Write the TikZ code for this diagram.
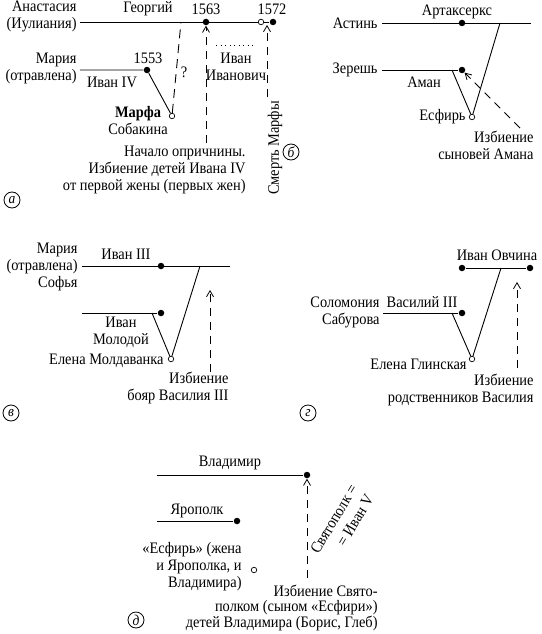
\documentclass[tikz,border=0pt]{standalone}
\usepackage{fontspec}
\setmainfont{Liberation Serif}[FakeStretch=0.9]
\usetikzlibrary{arrows.meta,positioning}

\begin{document}
\begin{tikzpicture}[x=1pt, y=-1pt, line width=0.9pt,
 >={Straight Barb[length=6pt,width=7pt,line width=0.8pt]},
 lab/.style={font=\fontsize{16}{17}\selectfont, inner sep=0pt, align=center},
 labr/.style={lab, align=right},
 pt/.style={circle, fill, inner sep=0pt, minimum size=6.5pt},
 opt/.style={circle, draw, fill=white, inner sep=0pt, minimum size=5.5pt, line width=0.7pt},
 kill/.style={->, dash pattern=on 8pt off 6pt},
 tag/.style={circle, draw, line width=0.8pt, inner sep=0pt, minimum size=16pt, font=\itshape\fontsize{15}{15}\selectfont}]
\useasboundingbox (0,0) rectangle (541,634);

% а
\node[labr, anchor=east] (anast) at (77,16) {Анастасия\\(Иулиания)};
\node[labr, anchor=east] (mariaA) at (77,68) {Мария\\(отравлена)};
\coordinate (aL0) at (80,22);
\coordinate (aL1) at (80,70);
\node[pt] (d63) at (206,22) {};
\node[opt] (o72) at (261,22) {};
\node[pt] (d72) at (273,22) {};
\node[pt] (d53) at (147,70) {};
\node[opt] (marfa) at (172,116) {};
\node[lab] (georg) at (148,9) {Георгий};
\node[lab] (y63) at (206,9) {1563};
\node[lab] (y72) at (272,9) {1572};
\node[lab] (y53) at (148,58) {1553};
\node[lab] (ivan4) at (112,82) {Иван IV};
\node[lab] (sobak) at (138,121) {\textbf{Марфа}\\Собакина};
\node[lab] (ivanich) at (236,67) {Иван\\Иванович};
\node[labr, anchor=east] (oprich) at (246,170) {Начало опричнины.\\Избиение детей Ивана IV\\от первой жены (первых жен)};
\node[lab, rotate=90] (smert) at (275,148) {Смерть Марфы};
\node[lab] (quest) at (184,72) {?};
\coordinate (g72) at (181,22);
\coordinate (t63) at (206,143);
\coordinate (a72) at (267,25);
\coordinate (t72) at (267,97);
\coordinate (dots0) at (216,45);
\coordinate (dots1) at (254,45);
\draw (aL0) -- (o72) (o72) -- (d72);
\draw (aL1) -- (d53) -- (marfa);
\draw[dash pattern=on 9pt off 6pt] (marfa) -- (g72);
\draw[dash pattern=on 1pt off 3.5pt] (dots0) -- (dots1);
\draw[kill] (t63) -- (d63);
\draw[kill] (t72) -- (a72);
\node[tag] (tagA) at (12,200) {а};

% б
\node[labr, anchor=east] (astin) at (378,23) {Астинь};
\node[labr, anchor=east] (zeresh) at (378,70) {Зерешь};
\coordinate (bL0) at (382,23);
\coordinate (bR0) at (531,23);
\coordinate (bL1) at (382,70);
\node[pt] (artax) at (462,23) {};
\node[pt] (aman) at (462,70) {};
\node[opt] (esfir) at (472,117) {};
\coordinate (bV0) at (452,70);
\coordinate (bV1) at (500,23);
\coordinate (bT) at (520,128);
\node[lab] (artaxL) at (457,12) {Артаксеркс};
\node[lab] (amanL) at (424,82) {Аман};
\node[labr, anchor=east] (esfirL) at (466,117) {Есфирь};
\node[labr, anchor=east] (killB) at (534,145) {Избиение\\сыновей Амана};
\draw (bL0) -- (bR0);
\draw (bL1) -- (aman);
\draw (bV0) -- (esfir) -- (bV1);
\draw[kill] (bT) -- (aman);
\node[tag] (tagB) at (291,152) {б};

% в
\node[labr, anchor=east] (mariaV) at (78,267) {Мария\\(отравлена)\\Софья};
\coordinate (vL0) at (82,266);
\coordinate (vR0) at (230,266);
\coordinate (vL1) at (82,313);
\node[pt] (ivan3) at (161,266) {};
\node[pt] (ivanM) at (161,313) {};
\node[opt] (elenaM) at (171,359) {};
\coordinate (vV0) at (152,313);
\coordinate (vV1) at (200,266);
\coordinate (vA) at (210,290);
\coordinate (vT) at (210,372);
\node[lab] (ivan3L) at (126,254) {Иван III};
\node[lab] (ivanML) at (121,332) {Иван\\Молодой};
\node[labr, anchor=east] (elenaML) at (164,361) {Елена Молдаванка};
\node[labr, anchor=east] (killV) at (229,388) {Избиение\\бояр Василия III};
\draw (vL0) -- (vR0);
\draw (vL1) -- (ivanM);
\draw (vV0) -- (elenaM) -- (vV1);
\draw[kill] (vT) -- (vA);
\node[tag] (tagV) at (11,413) {в};

% г
\node[pt] (ovch0) at (462,268) {};
\node[pt] (ovch1) at (530,268) {};
\node[pt] (vas3) at (462,313) {};
\node[opt] (elenaG) at (472,359) {};
\coordinate (gL1) at (383,313);
\coordinate (gV0) at (452,313);
\coordinate (gV1) at (501,268);
\coordinate (gA) at (517,282);
\coordinate (gT) at (517,368);
\node[lab] (ovchL) at (497,255) {Иван Овчина};
\node[labr, anchor=east] (solom) at (380,312) {Соломония\\Сабурова};
\node[lab] (vas3L) at (422,302) {Василий III};
\node[labr, anchor=east] (elenaGL) at (467,364) {Елена Глинская};
\node[labr, anchor=east] (killG) at (534,390) {Избиение\\родственников Василия};
\draw (ovch0) -- (ovch1);
\draw (gL1) -- (vas3);
\draw (gV0) -- (elenaG) -- (gV1);
\draw[kill] (gT) -- (gA);
\node[tag] (tagG) at (308,413) {г};

% д
\node[pt] (vlad) at (307,475) {};
\node[pt] (yarop) at (237,521) {};
\node[opt] (esfirD) at (254,570) {};
\coordinate (dL0) at (157,475);
\coordinate (dL1) at (157,521);
\coordinate (dT) at (307,578);
\node[lab] (vladL) at (230,463) {Владимир};
\node[lab] (yaropL) at (197,511) {Ярополк};
\node[labr, anchor=east] (esfirDL) at (242,567) {«Есфирь» (жена\\и Ярополка, и\\Владимира)};
\node[labr, rotate=59, font=\fontsize{16}{19}\selectfont] (svyat) at (342,524) {Святополк =\\= Иван V};
\node[labr, anchor=east, font=\fontsize{16}{14.5}\selectfont] (killD) at (378,608) {Избиение Свято-\\полком (сыном «Есфири»)\\детей Владимира (Борис, Глеб)};
\draw (dL0) -- (vlad);
\draw (dL1) -- (yarop);
\draw[kill] (dT) -- (vlad);
\node[tag] (tagD) at (136,620) {д};
\end{tikzpicture}
\end{document}
